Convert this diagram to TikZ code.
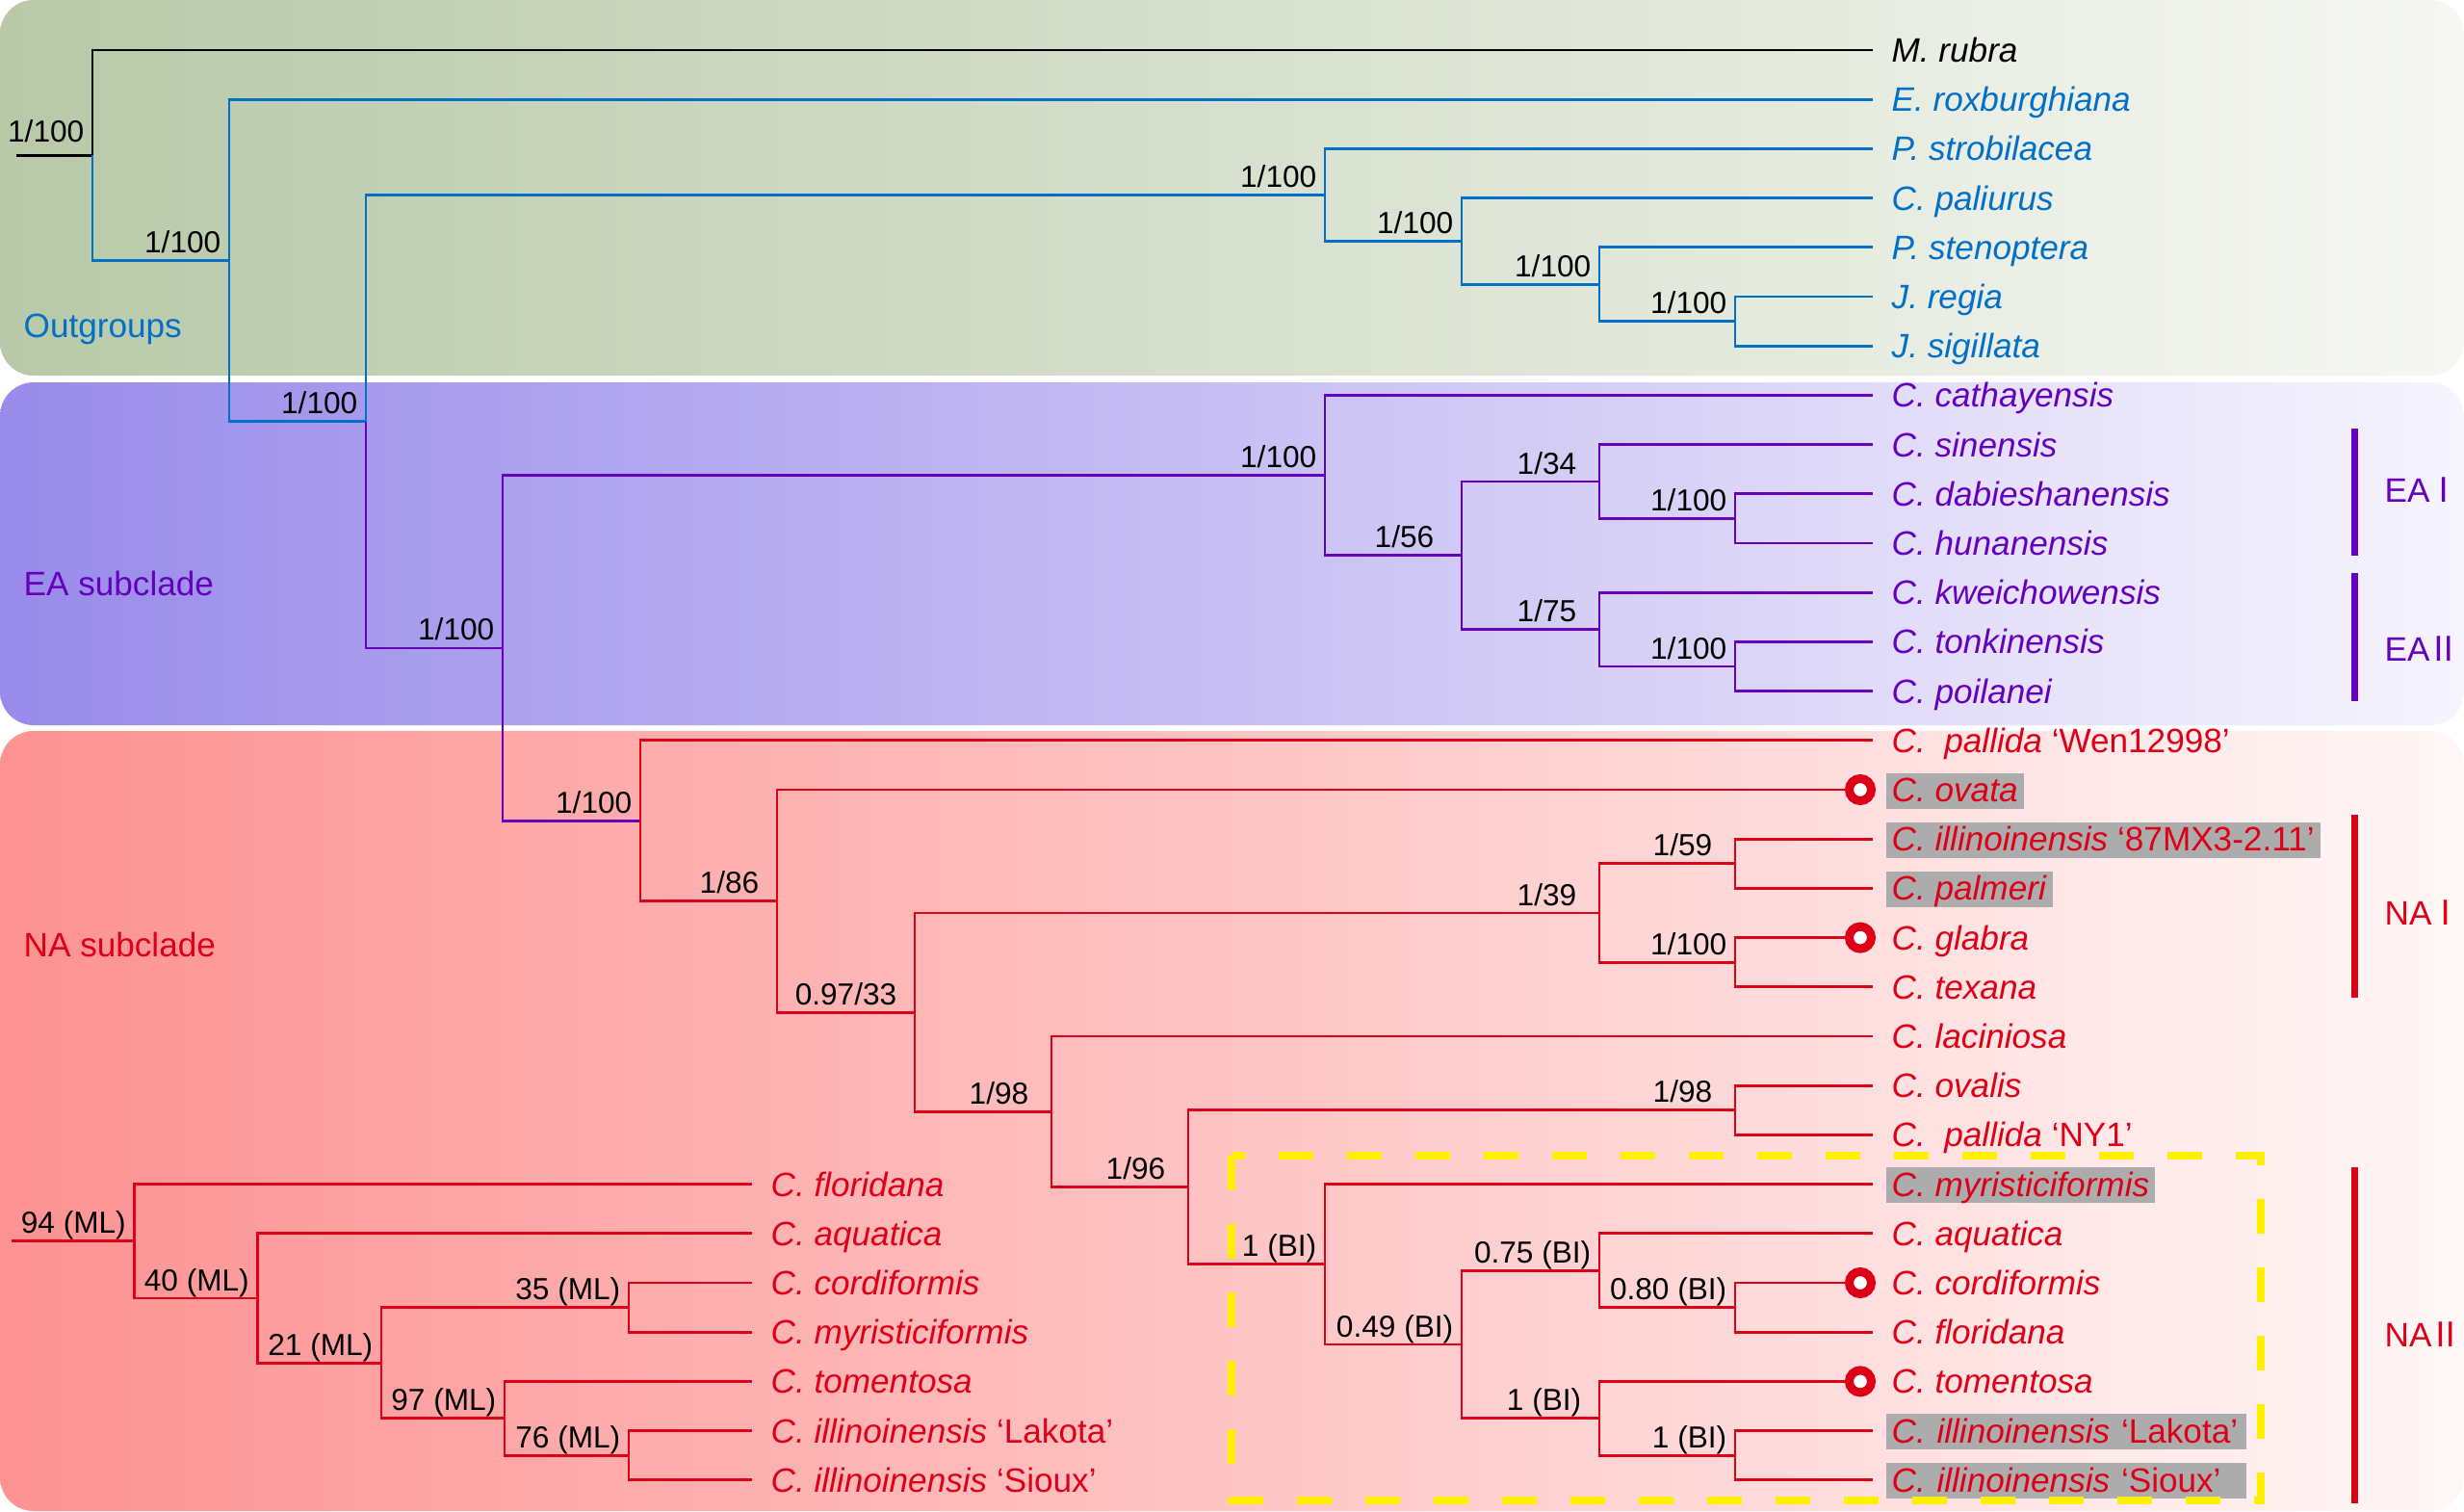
\documentclass[tikz,border=0pt]{standalone}
\usepackage{fontspec}
\setmainfont{Liberation Sans}
\newfontfamily\cjk{Noto Sans CJK SC}
\usepackage{xcolor}
\definecolor{ogblue}{RGB}{0,112,200}
\definecolor{eapurple}{RGB}{102,0,190}
\definecolor{nared}{RGB}{222,0,22}
\definecolor{hlgray}{RGB}{172,172,172}
\definecolor{dashyellow}{RGB}{255,240,0}
\definecolor{ogL}{RGB}{184,201,168}
\definecolor{ogR}{RGB}{246,247,243}
\definecolor{eaL}{RGB}{153,139,234}
\definecolor{eaR}{RGB}{246,244,253}
\definecolor{naL}{RGB}{253,146,146}
\definecolor{naR}{RGB}{255,247,247}
\tikzset{
  br/.style={line width=0.8pt},
  supp/.style={font=\fontsize{9}{10}\selectfont, anchor=base east, inner sep=0pt, xshift=-0.08cm, yshift=0.08cm},
  leaf/.style={font=\fontsize{10}{12}\selectfont, anchor=base west, inner xsep=0.06cm, inner ysep=0.02cm,
    text height=0.28cm, text depth=0.05cm, xshift=0.13cm, yshift=-0.125cm},
  hl/.style={fill=hlgray},
  wide/.style={text width=3.62cm},
  ring/.style={circle, draw=nared, line width=0.09cm, fill=white, inner sep=0pt, minimum size=0.23cm},
  clade/.style={font=\fontsize{10}{12}\selectfont, anchor=base west, inner sep=0pt},
  cladebar/.style={line width=0.07cm}
}

\begin{document}
\begin{tikzpicture}
\useasboundingbox (0,0) rectangle (25.59,-15.69);
\shade[left color=ogL, right color=ogR, rounded corners=0.35cm] (0,0) rectangle (25.59,-3.90);
\shade[left color=eaL, right color=eaR, rounded corners=0.35cm] (0,-3.97) rectangle (25.59,-7.53);
\shade[left color=naL, right color=naR, rounded corners=0.35cm] (0,-7.59) rectangle (25.59,-15.69);
\node[clade, text=ogblue] (outg) at (0.24,-3.50) {Outgroups};
\node[clade, text=eapurple] (easub) at (0.24,-6.18) {EA subclade};
\node[clade, text=nared] (nasub) at (0.24,-9.93) {NA subclade};

\foreach \n [count=\r] in {mrub,erox,pstr,cpal,psten,jreg,jsig,ccat,csin,cdab,chun,ckwe,cton,cpoi,cpwen,
  cova,cill,cpalm,cgla,ctex,clac,covl,cpny,cmyr,caqu,ccor,cflo,ctom,clak,csio}
  \coordinate (\n) at (19.45,{-0.52-(\r-1)*0.512});
\foreach \n [count=\r from 24] in {mflo,maqu,mcor,mmyr,mtom,mlak,msio}
  \coordinate (\n) at (7.81,{-0.52-(\r-1)*0.512});

\coordinate (rootend) at (0.17,-1.612);
\coordinate (nR) at (0.96,-1.612);
\coordinate (nB) at (2.38,-2.704);
\coordinate (nC) at (3.80,-4.377);
\coordinate (nJ) at (13.76,-2.024);
\coordinate (nJ2) at (15.18,-2.504);
\coordinate (nJ3) at (16.61,-2.952);
\coordinate (nJ4) at (18.02,-3.336);
\coordinate (nCar) at (5.22,-6.729);
\coordinate (nEA) at (13.76,-4.936);
\coordinate (nEA2) at (15.18,-5.768);
\coordinate (nEA1) at (16.61,-5.000);
\coordinate (nEA1b) at (18.02,-5.384);
\coordinate (nEAII) at (16.61,-6.536);
\coordinate (nEAIIb) at (18.02,-6.920);
\coordinate (nNA) at (6.65,-8.522);
\coordinate (nNA2) at (8.07,-9.356);
\coordinate (nNA3) at (9.50,-10.512);
\coordinate (nNAI) at (16.61,-9.480);
\coordinate (nNAIa) at (18.02,-8.968);
\coordinate (nNAIb) at (18.02,-9.992);
\coordinate (nNA4) at (10.92,-11.544);
\coordinate (nNA5) at (12.34,-12.328);
\coordinate (nOv) at (18.02,-11.528);
\coordinate (nNAII) at (13.76,-13.128);
\coordinate (nBI2) at (15.18,-13.960);
\coordinate (nBI3) at (16.61,-13.192);
\coordinate (nBI3b) at (18.02,-13.576);
\coordinate (nBI4) at (16.61,-14.728);
\coordinate (nBI4b) at (18.02,-15.112);
\coordinate (mroot) at (0.115,-12.888);
\coordinate (m1) at (1.395,-12.888);
\coordinate (m2) at (2.675,-13.480);
\coordinate (m3) at (3.96,-14.152);
\coordinate (m4) at (5.24,-14.728);
\coordinate (m5a) at (6.53,-13.576);
\coordinate (m5b) at (6.53,-15.112);

\draw[br, black] (rootend) -- (nR) (nR) |- (mrub);
\draw[br, ogblue] (nR) |- (nB) (nB) |- (erox) (nB) |- (nC) (nC) |- (nJ) (nJ) |- (pstr) (nJ) |- (nJ2)
  (nJ2) |- (cpal) (nJ2) |- (nJ3) (nJ3) |- (psten) (nJ3) |- (nJ4) (nJ4) |- (jreg) (nJ4) |- (jsig);
\draw[br, eapurple] (nC) |- (nCar) (nCar) |- (nEA) (nCar) |- (nNA) (nEA) |- (ccat) (nEA) |- (nEA2)
  (nEA2) |- (nEA1) (nEA2) |- (nEAII) (nEA1) |- (csin) (nEA1) |- (nEA1b) (nEA1b) |- (cdab) (nEA1b) |- (chun)
  (nEAII) |- (ckwe) (nEAII) |- (nEAIIb) (nEAIIb) |- (cton) (nEAIIb) |- (cpoi);
\draw[br, nared] (nNA) |- (cpwen) (nNA) |- (nNA2) (nNA2) |- (cova) (nNA2) |- (nNA3) (nNA3) |- (nNAI)
  (nNA3) |- (nNA4) (nNAI) |- (nNAIa) (nNAI) |- (nNAIb) (nNAIa) |- (cill) (nNAIa) |- (cpalm)
  (nNAIb) |- (cgla) (nNAIb) |- (ctex) (nNA4) |- (clac) (nNA4) |- (nNA5) (nNA5) |- (nOv) (nNA5) |- (nNAII)
  (nOv) |- (covl) (nOv) |- (cpny) (nNAII) |- (cmyr) (nNAII) |- (nBI2) (nBI2) |- (nBI3) (nBI2) |- (nBI4)
  (nBI3) |- (caqu) (nBI3) |- (nBI3b) (nBI3b) |- (ccor) (nBI3b) |- (cflo) (nBI4) |- (ctom) (nBI4) |- (nBI4b)
  (nBI4b) |- (clak) (nBI4b) |- (csio);
\draw[br, nared] (mroot) -- (m1) (m1) |- (mflo) (m1) |- (m2) (m2) |- (maqu) (m2) |- (m3) (m3) |- (m5a)
  (m3) |- (m4) (m5a) |- (mcor) (m5a) |- (mmyr) (m4) |- (mtom) (m4) |- (m5b) (m5b) |- (mlak) (m5b) |- (msio);

\node[supp, yshift=0.06cm] (snR) at (nR) {1/100};
\node[supp] (snB) at (nB) {1/100};
\node[supp] (snC) at (nC) {1/100};
\node[supp] (snJ) at (nJ) {1/100};
\node[supp] (snJ2) at (nJ2) {1/100};
\node[supp] (snJ3) at (nJ3) {1/100};
\node[supp] (snJ4) at (nJ4) {1/100};
\node[supp] (snCar) at (nCar) {1/100};
\node[supp] (snEA) at (nEA) {1/100};
\node[supp, xshift=-0.2cm] (snEA2) at (nEA2) {1/56};
\node[supp, xshift=-0.15cm] (snEA1) at (nEA1) {1/34};
\node[supp] (snEA1b) at (nEA1b) {1/100};
\node[supp, xshift=-0.15cm] (snEAII) at (nEAII) {1/75};
\node[supp] (snEAIIb) at (nEAIIb) {1/100};
\node[supp] (snNA) at (nNA) {1/100};
\node[supp, xshift=-0.1cm] (snNA2) at (nNA2) {1/86};
\node[supp, xshift=-0.1cm] (snNA3) at (nNA3) {0.97/33};
\node[supp, xshift=-0.15cm] (snNAI) at (nNAI) {1/39};
\node[supp, xshift=-0.15cm] (snNAIa) at (nNAIa) {1/59};
\node[supp] (snNAIb) at (nNAIb) {1/100};
\node[supp, xshift=-0.15cm] (snNA4) at (nNA4) {1/98};
\node[supp, xshift=-0.15cm] (snNA5) at (nNA5) {1/96};
\node[supp, xshift=-0.15cm] (snOv) at (nOv) {1/98};
\node[supp] (snNAII) at (nNAII) {1 (BI)};
\node[supp] (snBI2) at (nBI2) {0.49 (BI)};
\node[supp] (snBI3) at (nBI3) {0.75 (BI)};
\node[supp] (snBI3b) at (nBI3b) {0.80 (BI)};
\node[supp, xshift=-0.1cm] (snBI4) at (nBI4) {1 (BI)};
\node[supp] (snBI4b) at (nBI4b) {1 (BI)};
\node[supp] (sm1) at (m1) {94 (ML)};
\node[supp] (sm2) at (m2) {40 (ML)};
\node[supp] (sm3) at (m3) {21 (ML)};
\node[supp] (sm5a) at (m5a) {35 (ML)};
\node[supp] (sm4) at (m4) {97 (ML)};
\node[supp] (sm5b) at (m5b) {76 (ML)};

\node[leaf, text=black] (lmrub) at (mrub) {\textit{M. rubra}};
\node[leaf, text=ogblue] (lerox) at (erox) {\textit{E. roxburghiana}};
\node[leaf, text=ogblue] (lpstr) at (pstr) {\textit{P. strobilacea}};
\node[leaf, text=ogblue] (lcpal) at (cpal) {\textit{C. paliurus}};
\node[leaf, text=ogblue] (lpsten) at (psten) {\textit{P. stenoptera}};
\node[leaf, text=ogblue] (ljreg) at (jreg) {\textit{J. regia}};
\node[leaf, text=ogblue] (ljsig) at (jsig) {\textit{J. sigillata}};
\node[leaf, text=eapurple] (lccat) at (ccat) {\textit{C. cathayensis}};
\node[leaf, text=eapurple] (lcsin) at (csin) {\textit{C. sinensis}};
\node[leaf, text=eapurple] (lcdab) at (cdab) {\textit{C. dabieshanensis}};
\node[leaf, text=eapurple] (lchun) at (chun) {\textit{C. hunanensis}};
\node[leaf, text=eapurple] (lckwe) at (ckwe) {\textit{C. kweichowensis}};
\node[leaf, text=eapurple] (lcton) at (cton) {\textit{C. tonkinensis}};
\node[leaf, text=eapurple] (lcpoi) at (cpoi) {\textit{C. poilanei}};
\node[leaf, text=nared] (lcpwen) at (cpwen) {\textit{C.\ \ pallida} ‘Wen12998’};
\node[leaf, hl, text=nared] (lcova) at (cova) {\textit{C. ovata}};
\node[leaf, hl, text=nared] (lcill) at (cill) {\textit{C. illinoinensis} ‘87MX3-2.11’};
\node[leaf, hl, text=nared] (lcpalm) at (cpalm) {\textit{C. palmeri}};
\node[leaf, text=nared] (lcgla) at (cgla) {\textit{C. glabra}};
\node[leaf, text=nared] (lctex) at (ctex) {\textit{C. texana}};
\node[leaf, text=nared] (lclac) at (clac) {\textit{C. laciniosa}};
\node[leaf, text=nared] (lcovl) at (covl) {\textit{C. ovalis}};
\node[leaf, text=nared] (lcpny) at (cpny) {\textit{C.\ \ pallida} ‘NY1’};
\node[leaf, hl, text=nared] (lcmyr) at (cmyr) {\textit{C. myristiciformis}};
\node[leaf, text=nared] (lcaqu) at (caqu) {\textit{C. aquatica}};
\node[leaf, text=nared] (lccor) at (ccor) {\textit{C. cordiformis}};
\node[leaf, text=nared] (lcflo) at (cflo) {\textit{C. floridana}};
\node[leaf, text=nared] (lctom) at (ctom) {\textit{C. tomentosa}};
\node[leaf, hl, wide, text=nared] (lclak) at (clak) {\textit{C. illinoinensis} ‘Lakota’};
\node[leaf, hl, wide, text=nared] (lcsio) at (csio) {\textit{C. illinoinensis} ‘Sioux’};
\node[leaf, text=nared] (lmflo) at (mflo) {\textit{C. floridana}};
\node[leaf, text=nared] (lmaqu) at (maqu) {\textit{C. aquatica}};
\node[leaf, text=nared] (lmcor) at (mcor) {\textit{C. cordiformis}};
\node[leaf, text=nared] (lmmyr) at (mmyr) {\textit{C. myristiciformis}};
\node[leaf, text=nared] (lmtom) at (mtom) {\textit{C. tomentosa}};
\node[leaf, text=nared] (lmlak) at (mlak) {\textit{C. illinoinensis} ‘Lakota’};
\node[leaf, text=nared] (lmsio) at (msio) {\textit{C. illinoinensis} ‘Sioux’};

\node[ring] (rcova) at ([xshift=-0.13cm]cova) {};
\node[ring] (rcgla) at ([xshift=-0.13cm]cgla) {};
\node[ring] (rccor) at ([xshift=-0.13cm]ccor) {};
\node[ring] (rctom) at ([xshift=-0.13cm]ctom) {};

\draw[dashyellow, line width=0.075cm, dash pattern=on 0.36cm off 0.35cm] (12.79,-12.00) rectangle (23.48,-15.58);

\draw[cladebar, eapurple] (24.45,-4.45) -- (24.45,-5.77);
\draw[cladebar, eapurple] (24.45,-5.95) -- (24.45,-7.28);
\draw[cladebar, nared] (24.45,-8.46) -- (24.45,-10.36);
\draw[cladebar, nared] (24.45,-12.12) -- (24.45,-15.61);
\node[clade, text=eapurple] (eaI) at (24.76,-5.21) {EA\hspace{-0.03cm}{\cjk Ⅰ}};
\node[clade, text=eapurple] (eaII) at (24.76,-6.86) {EA\hspace{-0.03cm}{\cjk Ⅱ}};
\node[clade, text=nared] (naI) at (24.76,-9.60) {NA\hspace{-0.03cm}{\cjk Ⅰ}};
\node[clade, text=nared] (naII) at (24.76,-13.98) {NA\hspace{-0.03cm}{\cjk Ⅱ}};
\end{tikzpicture}
\end{document}
